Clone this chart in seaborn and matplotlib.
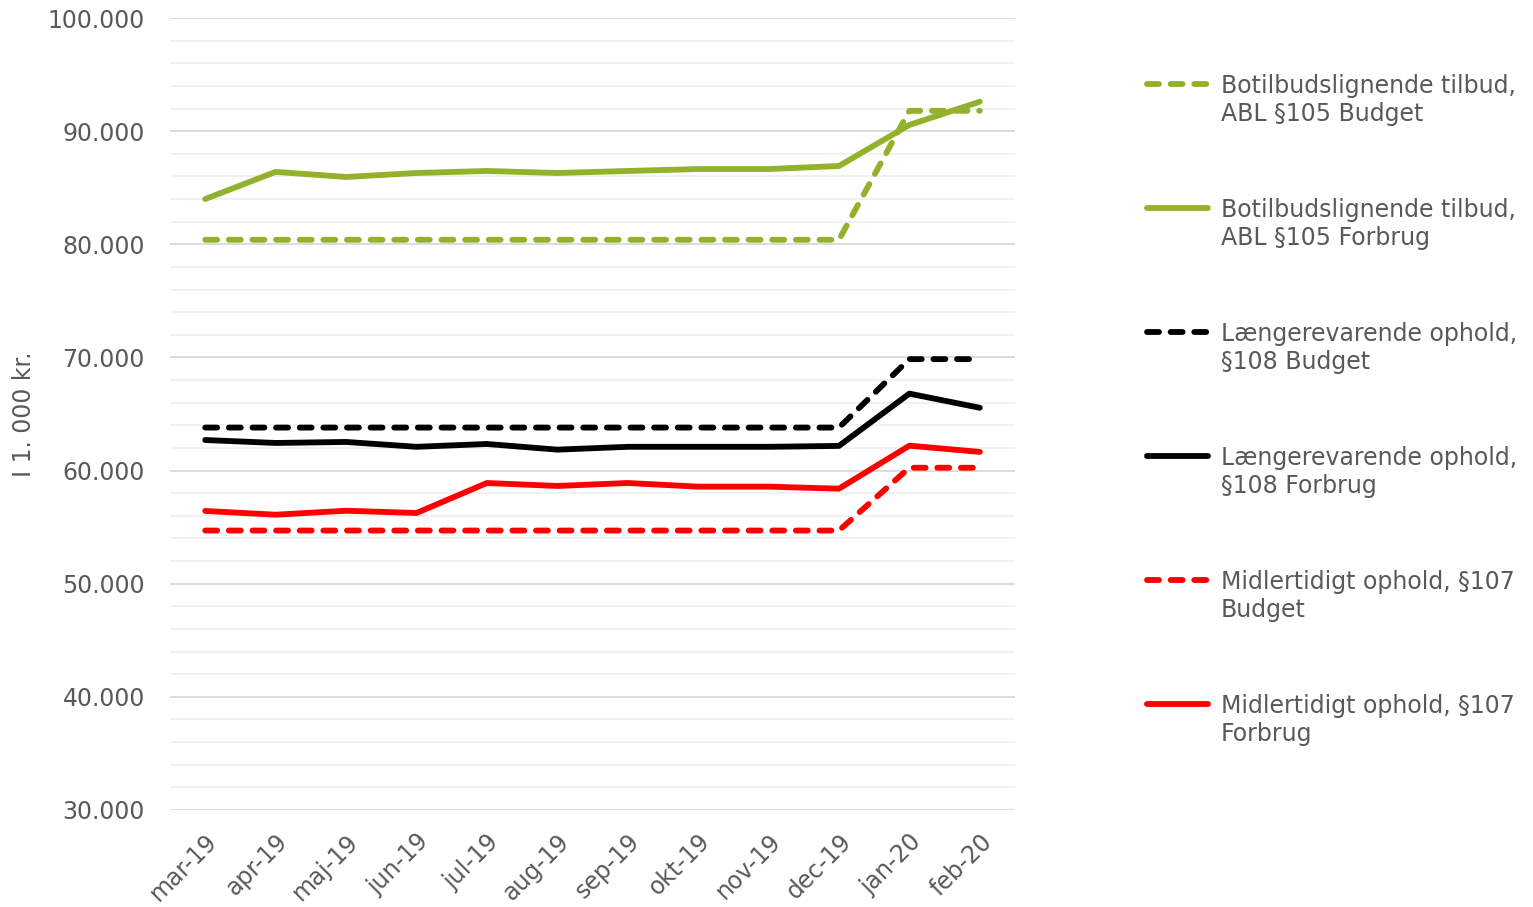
import matplotlib
matplotlib.use('Agg')
import matplotlib.pyplot as plt
import seaborn as sns
import pandas as pd
from matplotlib.ticker import MultipleLocator, FuncFormatter
from matplotlib.lines import Line2D

# Data (in 1.000 kr.)
months = ['mar-19', 'apr-19', 'maj-19', 'jun-19', 'jul-19', 'aug-19',
          'sep-19', 'okt-19', 'nov-19', 'dec-19', 'jan-20', 'feb-20']

botilbud_budget = [80400, 80400, 80400, 80400, 80400, 80400,
                   80400, 80400, 80400, 80400, 91800, 91800]
botilbud_forbrug = [84000, 86400, 85950, 86300, 86480, 86300,
                    86480, 86650, 86650, 86920, 90550, 92600]
laengere_budget = [63800, 63800, 63800, 63800, 63800, 63800,
                   63800, 63800, 63800, 63800, 69850, 69850]
laengere_forbrug = [62700, 62440, 62530, 62100, 62350, 61850,
                    62100, 62100, 62100, 62180, 66800, 65550]
midl_budget = [54700, 54700, 54700, 54700, 54700, 54700,
               54700, 54700, 54700, 54700, 60250, 60250]
midl_forbrug = [56430, 56100, 56450, 56250, 58900, 58640,
                58900, 58580, 58580, 58400, 62200, 61650]

labels = ['Botilbudslignende tilbud,\nABL §105 Budget',
          'Botilbudslignende tilbud,\nABL §105 Forbrug',
          'Længerevarende ophold,\n§108 Budget',
          'Længerevarende ophold,\n§108 Forbrug',
          'Midlertidigt ophold, §107\nBudget',
          'Midlertidigt ophold, §107\nForbrug']

GREEN = '#93b12a'
TEXT = '#595959'
DASH = (0, (2.05, 2.0))

series = [
    (botilbud_budget, GREEN, DASH),
    (botilbud_forbrug, GREEN, '-'),
    (laengere_budget, 'black', DASH),
    (laengere_forbrug, 'black', '-'),
    (midl_budget, 'red', DASH),
    (midl_forbrug, 'red', '-'),
]

sns.set_style('white')
plt.rcParams['font.family'] = ['DejaVu Sans']

W, H = 1533, 907
fig = plt.figure(figsize=(W / 100, H / 100), dpi=100)
ax = fig.add_axes([170 / W, 1 - 810 / H, (1015 - 170) / W, (810 - 18) / H])

LW = 4.2
for values, color, ls in series:
    df = pd.DataFrame({'maaned': months, 'vaerdi': values})
    sns.lineplot(data=df, x='maaned', y='vaerdi', ax=ax, color=color,
                 linestyle=ls, linewidth=LW, legend=False, sort=False,
                 dash_capstyle='round', solid_capstyle='round',
                 solid_joinstyle='round')

ax.set_xlim(-0.5, len(months) - 0.5)
ax.set_ylim(30000, 100000)
ax.yaxis.set_major_locator(MultipleLocator(10000))
ax.yaxis.set_minor_locator(MultipleLocator(2000))
ax.yaxis.set_major_formatter(FuncFormatter(lambda v, p: f'{int(v):,}'.replace(',', '.')))
ax.grid(which='major', axis='y', color='#d9d9d9', linewidth=1.3)
ax.grid(which='minor', axis='y', color='#f0f0f0', linewidth=1.3)
ax.grid(False, axis='x')
ax.set_axisbelow(True)
for s in ax.spines.values():
    s.set_visible(False)

ax.tick_params(axis='y', which='both', length=0, labelsize=17, labelcolor=TEXT, pad=18)
ax.tick_params(axis='x', length=0, labelsize=17, labelcolor=TEXT, pad=14)
ax.set_xticks(range(len(months)))
ax.set_xticklabels(months, rotation=45, ha='right', rotation_mode='anchor')
ax.set_xlabel('')
ax.set_ylabel('')
fig.text(24 / W, 1 - 414 / H, 'I 1. 000 kr.', fontsize=17, color=TEXT,
         rotation=90, ha='center', va='center')

# legend on the right, handle aligned with first label line
for i, ((values, color, ls), label) in enumerate(zip(series, labels)):
    y_px = 84 + 124 * i
    fig.add_artist(Line2D([1147 / W, 1208 / W], [1 - y_px / H] * 2,
                          transform=fig.transFigure, color=color,
                          linestyle=ls, linewidth=LW,
                          dash_capstyle='round', solid_capstyle='round'))
    fig.text(1221 / W, 1 - (y_px + 8.5 + 29) / H, label, fontsize=17, color=TEXT,
             va='baseline', ha='left', linespacing=1.22)

fig.savefig('out.png', dpi=100)
